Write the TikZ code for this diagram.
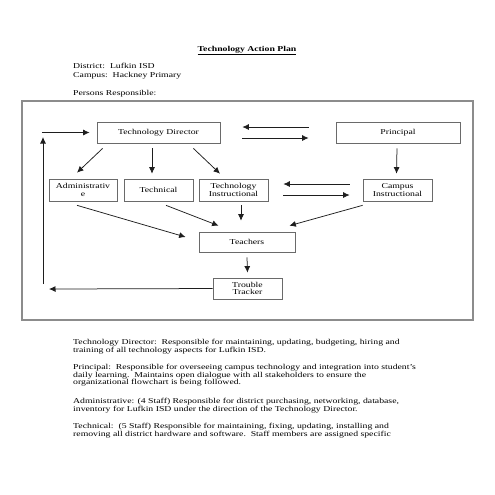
\documentclass[tikz,border=0pt]{standalone}
\usepackage{fontspec}
\setmainfont{Liberation Serif}
\usetikzlibrary{arrows.meta}
\definecolor{framegray}{HTML}{8C8C8C}
\definecolor{boxgray}{HTML}{6A6A6A}
\definecolor{arrowblack}{HTML}{1E1E1E}
\newcommand\doctext{\fontsize{9.75}{10}\selectfont}

\begin{document}
\begin{tikzpicture}
  [x=1pt, y=-1.2987pt, yscale=0.77,
   every node/.style={transform shape, inner sep=0pt, font=\doctext},
   box/.style={draw=boxgray, line width=0.8pt, align=center, minimum height=27.5pt},
   arr/.style={draw=arrowblack, line width=0.75pt, -{Latex[length=6.5pt,width=6pt]}}]
  \useasboundingbox (0,0) rectangle (495,495);
  \node[anchor=base] (title) at (247,51) {\underline{\textbf{Technology Action Plan}}};
  \node[anchor=base west] (district) at (73,68.5) {District:\ \ Lufkin ISD};
  \node[anchor=base west] (campus) at (73,77) {Campus:\ \ Hackney Primary};
  \node[anchor=base west] (persons) at (73,95) {Persons Responsible:};
  \draw[framegray, line width=1.2pt] (22,101) rectangle (473,320);
  \node[box, minimum width=123pt] (td) at (158.5,132.5) {Technology Director};
  \node[box, minimum width=124pt] (pr) at (398,132.5) {Principal};
  \node[box, minimum width=68pt, minimum height=28.6pt] (adm) at (83,190) {Administrativ\\e};
  \node[box, minimum width=69pt, minimum height=28.6pt] (tech) at (158.5,190) {Technical};
  \node[box, minimum width=69pt, minimum height=28.6pt] (ti) at (233.5,190) {Technology\\Instructional};
  \node[box, minimum width=69pt, minimum height=28.6pt] (ci) at (397.5,190) {Campus\\Instructional};
  \node[box, minimum width=96pt, minimum height=26pt] (tea) at (247,242) {Teachers};
  \node[box, minimum width=69pt] (tt) at (247.5,288.5) {Trouble\\Tracker};
  \coordinate (loopbot) at (43,284);
  \coordinate (looptop) at (43,137);
  \coordinate (loopin) at (42,132.5);
  \coordinate (loopout) at (49,289);
  \draw[arr] ([shift={(6,5)}]td.south west) -- ([shift={(-6,-6)}]adm.north);
  \draw[arr] ([shift={(-6.5,5)}]td.south) -- ([shift={(-6.5,-5)}]tech.north);
  \draw[arr] ([shift={(-27,5)}]td.south east) -- ([shift={(-13.5,-5)}]ti.north);
  \draw[arr] ([shift={(-1,5)}]pr.south) -- ([shift={(-1,-5)}]ci.north);
  \draw[arr] ([shift={(-27,-5.5)}]pr.west) -- ([shift={(22,-5.5)}]td.east);
  \draw[arr] ([shift={(22,5.5)}]td.east) -- ([shift={(-27,5.5)}]pr.west);
  \draw[arr] ([shift={(-13,-6)}]ci.west) -- ([shift={(15,-6)}]ti.east);
  \draw[arr] ([shift={(15,5)}]ti.east) -- ([shift={(-13,5)}]ci.west);
  \draw[arr] ([shift={(-6,4)}]adm.south) -- ([shift={(-13,-5)}]tea.west);
  \draw[arr] ([shift={(7.5,4)}]tech.south) -- ([shift={(20,-6)}]tea.north west);
  \draw[arr] ([shift={(7.5,4)}]ti.south) -- ([shift={(-6,-11)}]tea.north);
  \draw[arr] ([shift={(0,4)}]ci.south west) -- ([shift={(-6,-6)}]tea.north east);
  \draw[arr] ([shift={(0,5)}]tea.south) -- ([shift={(0,-5)}]tt.north);
  \draw[arr] (tt.west) -- (loopout);
  \draw[arr] (loopbot) -- (looptop);
  \draw[arr] (loopin) -- ([shift={(-7,0)}]td.west);
  \node[anchor=north west, align=left] (pdir) at (73,339) {Technology Director:\ \ Responsible for maintaining, updating, budgeting, hiring and\\training of all technology aspects for Lufkin ISD.};
  \node[anchor=north west, align=left] (pprin) at (73,364) {Principal:\ \ Responsible for overseeing campus technology and integration into student's\\daily learning.\ \ Maintains open dialogue with all stakeholders to ensure the\\organizational flowchart is being followed.};
  \node[anchor=north west, align=left] (padm) at (73,398.5) {Administrative: (4 Staff) Responsible for district purchasing, networking, database,\\inventory for Lufkin ISD under the direction of the Technology Director.};
  \node[anchor=north west, align=left] (ptech) at (73,423) {Technical:\ \ (5 Staff) Responsible for maintaining, fixing, updating, installing and\\removing all district hardware and software.\ \ Staff members are assigned specific};
\end{tikzpicture}
\end{document}
